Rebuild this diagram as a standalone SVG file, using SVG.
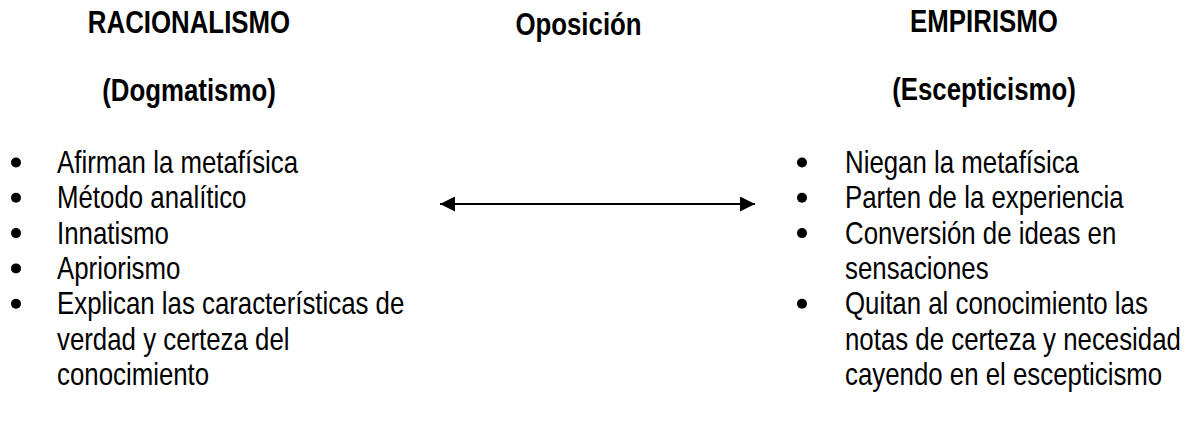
<svg xmlns="http://www.w3.org/2000/svg" width="1197" height="423" viewBox="0 0 1197 423">
<style>
text{fill:#000;font-family:"Liberation Sans",Arial,sans-serif}
.h{font-size:31.5px;font-weight:bold;text-anchor:middle}
.b{font-size:31.5px}
.dot{fill:#000}
</style>
<defs>
<marker id="ah" viewBox="0 0 15 15" refX="15" refY="7.5" markerWidth="15" markerHeight="15" markerUnits="userSpaceOnUse" orient="auto-start-reverse">
<path d="M0,0 L15,7.5 L0,15 Z" fill="#000"/>
</marker>
</defs>
<rect width="1197" height="423" fill="#fff"/>
<g id="racionalismo">
<text class="h" transform="translate(189,33) scale(0.82,1)">RACIONALISMO</text>
<text class="h" transform="translate(189,101) scale(0.82,1)">(Dogmatismo)</text>
<circle class="dot" cx="16" cy="162.5" r="5"/>
<circle class="dot" cx="16" cy="197.8" r="5"/>
<circle class="dot" cx="16" cy="233.1" r="5"/>
<circle class="dot" cx="16" cy="268.4" r="5"/>
<circle class="dot" cx="16" cy="303.7" r="5"/>
<text class="b" transform="translate(57,173) scale(0.82,1)">Afirman la metafísica</text>
<text class="b" transform="translate(57,208.3) scale(0.82,1)">Método analítico</text>
<text class="b" transform="translate(57,243.6) scale(0.82,1)">Innatismo</text>
<text class="b" transform="translate(57,278.9) scale(0.82,1)">Apriorismo</text>
<text class="b" transform="translate(57,314.2) scale(0.82,1)">Explican las características de</text>
<text class="b" transform="translate(57,349.5) scale(0.82,1)">verdad y certeza del</text>
<text class="b" transform="translate(57,384.8) scale(0.82,1)">conocimiento</text>
</g>
<g id="oposicion">
<text class="h" transform="translate(578.5,35) scale(0.82,1)">Oposición</text>
</g>
<g id="empirismo">
<text class="h" transform="translate(984,31.5) scale(0.82,1)">EMPIRISMO</text>
<text class="h" transform="translate(984,100) scale(0.82,1)">(Escepticismo)</text>
<circle class="dot" cx="802" cy="162.5" r="5"/>
<circle class="dot" cx="802" cy="197.8" r="5"/>
<circle class="dot" cx="802" cy="233.1" r="5"/>
<circle class="dot" cx="802" cy="303.7" r="5"/>
<text class="b" transform="translate(845,173) scale(0.82,1)">Niegan la metafísica</text>
<text class="b" transform="translate(845,208.3) scale(0.82,1)">Parten de la experiencia</text>
<text class="b" transform="translate(845,243.6) scale(0.82,1)">Conversión de ideas en</text>
<text class="b" transform="translate(845,278.9) scale(0.82,1)">sensaciones</text>
<text class="b" transform="translate(845,314.2) scale(0.82,1)">Quitan al conocimiento las</text>
<text class="b" transform="translate(845,349.5) scale(0.82,1)">notas de certeza y necesidad</text>
<text class="b" transform="translate(845,384.8) scale(0.82,1)">cayendo en el escepticismo</text>
</g>
<g id="connectors">
<line x1="440" y1="204" x2="755" y2="204" stroke="#000" stroke-width="2" marker-start="url(#ah)" marker-end="url(#ah)"/>
</g>
</svg>
